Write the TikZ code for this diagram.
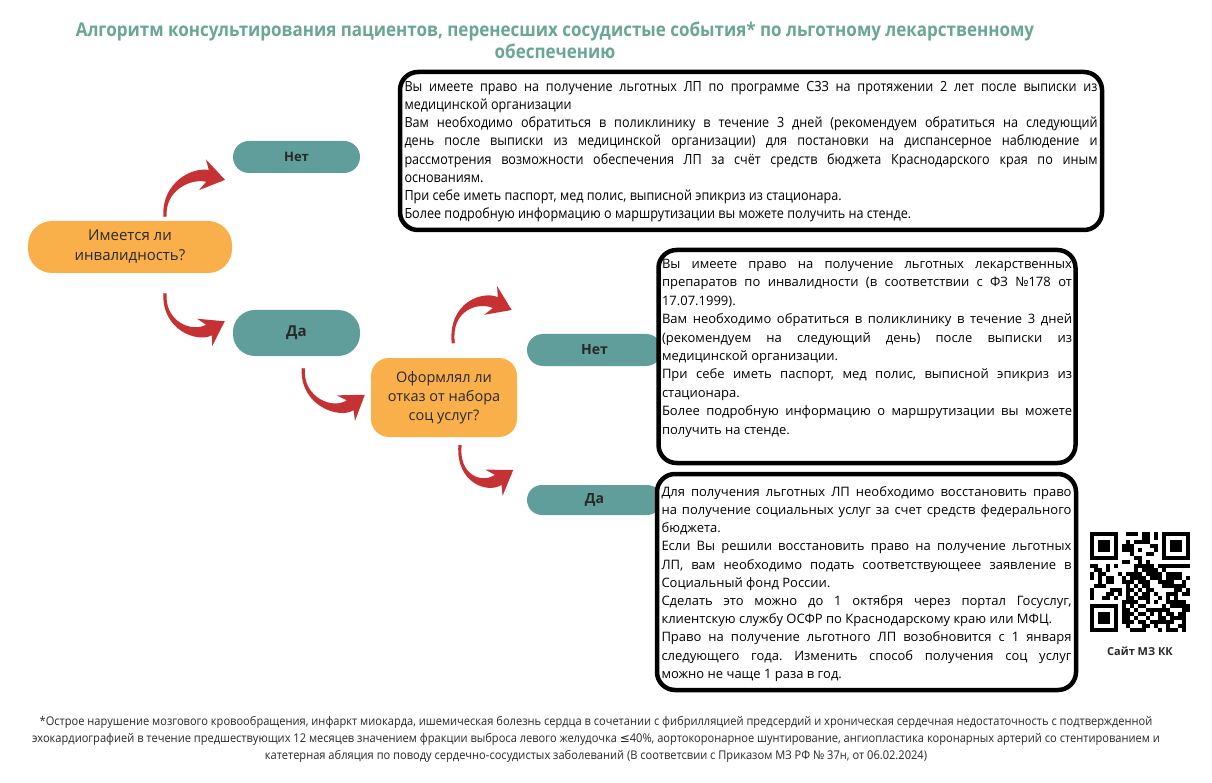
\documentclass[tikz,border=0pt]{standalone}
\usepackage{fontspec}
\setmainfont{Open Sans}
\newfontfamily\titlefont{Open Sans}[FakeStretch=0.895]
\newfontfamily\footfont{Open Sans}[FakeStretch=0.924]
\newfontfamily\boxonefont{Open Sans}[FakeStretch=0.9]
\newfontfamily\symfont{DejaVu Sans}
\usetikzlibrary{arrows.meta,calc}
\definecolor{tealc}{RGB}{95,158,155}
\definecolor{titlec}{RGB}{106,166,150}
\definecolor{orangec}{RGB}{249,176,74}
\definecolor{redc}{RGB}{198,50,52}
\definecolor{darkc}{RGB}{40,40,40}
\tolerance=10000
\hyphenpenalty=10000
\frenchspacing
% tapered curved arrow: #1 tail, #2 control 1, #3 control 2, #4 head base centre
\newcommand\taperarrow[4]{%
  \fill[redarrow] ($(#1)!1.6pt!-90:(#2)$) .. controls ($(#2)!4.5pt!-90:(#3)$) and ($(#3)!6pt!-90:(#4)$) .. ($(#4)!6pt!90:(#3)$)
    -- ($(#4)!16.5pt!72:(#3)$) -- ($(#4)!-18pt!(#3)$) -- ($(#4)!16.5pt!-72:(#3)$)
    -- ($(#4)!6pt!-90:(#3)$) .. controls ($(#3)!6pt!90:(#4)$) and ($(#2)!4.5pt!90:(#3)$) .. ($(#1)!1.6pt!90:(#2)$) -- cycle;}
\begin{document}
\begin{tikzpicture}[x=1pt,y=-1pt,
  tealpill/.style={fill=tealc, draw=none, inner sep=0pt, text=darkc,
    font=\bfseries\fontsize{13}{15}\selectfont, minimum width=127pt, minimum height=32pt, rounded corners=16pt},
  question/.style={fill=orangec, draw=none, inner sep=0pt, text=darkc, align=center},
  infobox/.style={draw=black, line width=4.5pt, fill=white, rounded corners=18pt, inner xsep=4.5pt, inner ysep=0pt},
  redarrow/.style={fill=redc, draw=none},
  qrmod/.style={fill=black, draw=none}
]
\useasboundingbox (0,0) rectangle (1212,783);
\fill[white] (0,0) rectangle (1212,783);

% title
\node[text=titlec, align=center, font=\titlefont\bfseries\fontsize{19}{22}\selectfont] (title) at (555,40)
  {Алгоритм консультирования пациентов, перенесших сосудистые события* по льготному лекарственному\\обеспечению};

% question nodes
\node[question, minimum width=204pt, minimum height=52pt, rounded corners=24pt,
  font=\fontsize{15}{20}\selectfont] (q1) at (130,247) {Имеется ли\\инвалидность?};
\node[question, minimum width=146pt, minimum height=79pt, rounded corners=18pt,
  font=\fontsize{14.5}{19}\selectfont] (q2) at (444,397.5) {Оформлял ли\\отказ от набора\\соц услуг?};

% answer pills
\node[tealpill] (no1) at (296.5,157) {Нет};
\node[tealpill, minimum height=46pt, rounded corners=22pt, font=\bfseries\fontsize{15}{17}\selectfont] (yes1) at (296.5,333) {Да};
\node[tealpill, minimum width=135pt, font=\bfseries\fontsize{14}{16}\selectfont] (no2) at (594.5,350) {Нет};
\node[tealpill, minimum width=135pt, minimum height=30pt, rounded corners=15pt, font=\bfseries\fontsize{14}{16}\selectfont] (yes2) at (594.5,500) {Да};

% info boxes
\node[infobox] (info1) at (751,151) {\parbox[c][158pt][t]{693pt}{\boxonefont\fontsize{14}{18.1}\selectfont
\vspace*{7pt}\strut Вы имеете право на получение льготных ЛП по программе СЗЗ на протяжении 2 лет после выписки из\linebreak
медицинской организации\par
Вам необходимо обратиться в поликлинику  в течение 3 дней (рекомендуем обратиться на следующий\linebreak
день после выписки из медицинской организации) для постановки на диспансерное наблюдение и\linebreak
рассмотрения возможности обеспечения ЛП за счёт средств бюджета Краснодарского края  по иным\linebreak
основаниям.\par
При себе иметь паспорт, мед полис, выписной эпикриз из стационара.\par
Более подробную информацию о маршрутизации вы можете получить на стенде.\par}};

\node[infobox, inner xsep=3.5pt] (info2) at (867,356.5) {\parbox[c][213pt][t]{410pt}{\fontsize{13}{18.4}\selectfont
\vspace*{5.6pt}\strut Вы имеете право на получение льготных лекарственных\linebreak
препаратов по инвалидности (в соответствии с ФЗ №178 от\linebreak
17.07.1999).\par
Вам необходимо обратиться в поликлинику  в течение 3 дней\linebreak
(рекомендуем на следующий день) после выписки из\linebreak
медицинской организации.\par
При себе иметь паспорт, мед полис, выписной эпикриз из\linebreak
стационара.\par
Более подробную информацию о маршрутизации вы можете\linebreak
получить на стенде.\par}};

\node[infobox] (info3) at (866.5,582) {\parbox[c][216pt][t]{410pt}{\fontsize{13}{18.2}\selectfont
\vspace*{9.6pt}\strut Для получения льготных ЛП необходимо восстановить право\linebreak
на получение социальных услуг за счет средств федерального\linebreak
бюджета.\par
Если Вы решили восстановить  право на получение льготных\linebreak
ЛП, вам необходимо подать соответствующеее заявление в\linebreak
Социальный фонд России.\par
Сделать это можно до 1 октября через портал Госуслуг,\linebreak
клиентскую службу ОСФР по Краснодарскому краю или МФЦ.\par
Право на получение льготного ЛП возобновится с 1 января\linebreak
следующего года. Изменить способ получения соц услуг\linebreak
можно не чаще 1 раза в год.\par}};

% arrows (tail, control 1, control 2, head base)
\coordinate (a1s) at (165,216.7); \coordinate (a1c) at (163,186);   \coordinate (a1d) at (192,172.4); \coordinate (a1e) at (207.5,175.9);
\coordinate (a2s) at (165,293.3); \coordinate (a2c) at (163,326);   \coordinate (a2d) at (194.7,337.9); \coordinate (a2e) at (209,330);
\coordinate (a3s) at (303.3,368.3); \coordinate (a3c) at (301,402); \coordinate (a3d) at (336.7,414.7); \coordinate (a3e) at (350.1,405.2);
\coordinate (a4s) at (453.3,343.3); \coordinate (a4c) at (449,306); \coordinate (a4d) at (480.7,296); \coordinate (a4e) at (495.3,302.6);
\coordinate (a5s) at (460,445);   \coordinate (a5c) at (457,479);   \coordinate (a5d) at (484.6,488.9); \coordinate (a5e) at (498.2,479.9);
\taperarrow{a1s}{a1c}{a1d}{a1e}
\taperarrow{a2s}{a2c}{a2d}{a2e}
\taperarrow{a3s}{a3c}{a3d}{a3e}
\taperarrow{a4s}{a4c}{a4d}{a4e}
\taperarrow{a5s}{a5c}{a5d}{a5e}

% QR code
\coordinate (qr) at (1090,532);
\pgfmathsetseed{12}
\foreach \i in {0,...,24}{\foreach \j in {0,...,24}{
  \pgfmathtruncatemacro{\infind}{((\i<8)&&(\j<8))||((\i>16)&&(\j<8))||((\i<8)&&(\j>16))}
  \pgfmathtruncatemacro{\onmod}{rnd<0.55}
  \ifnum\infind=0 \ifnum\onmod=1 \fill[qrmod] ($(qr)+(\i*4,\j*4)$) rectangle ++(4.1,4.1); \fi\fi
}}
\foreach \ox/\oy in {0/0,72/0,0/72}{
  \fill[black] ($(qr)+(\ox,\oy)$) rectangle ++(28,28);
  \fill[white] ($(qr)+(\ox+4,\oy+4)$) rectangle ++(20,20);
  \fill[black] ($(qr)+(\ox+8,\oy+8)$) rectangle ++(12,12);
}
\node[font=\bfseries\fontsize{11}{13}\selectfont, text=darkc] (qrlabel) at (1140,651) {Сайт МЗ КК};

% footnote
\node[align=center, text=darkc, font=\footfont\fontsize{12}{17}\selectfont] (footnote) at (596,739)
 {*Острое нарушение мозгового кровообращения, инфаркт миокарда, ишемическая болезнь сердца в сочетании с фибрилляцией предсердий и хроническая сердечная недостаточность с подтвержденной\\
 эхокардиографией в течение предшествующих 12 месяцев значением фракции выброса левого желудочка {\symfont ≤}40\%, аортокоронарное шунтирование, ангиопластика коронарных артерий со стентированием и\\
 катетерная абляция по поводу сердечно-сосудистых заболеваний (В соответсвии с Приказом МЗ РФ № 37н, от 06.02.2024)};
\end{tikzpicture}
\end{document}
